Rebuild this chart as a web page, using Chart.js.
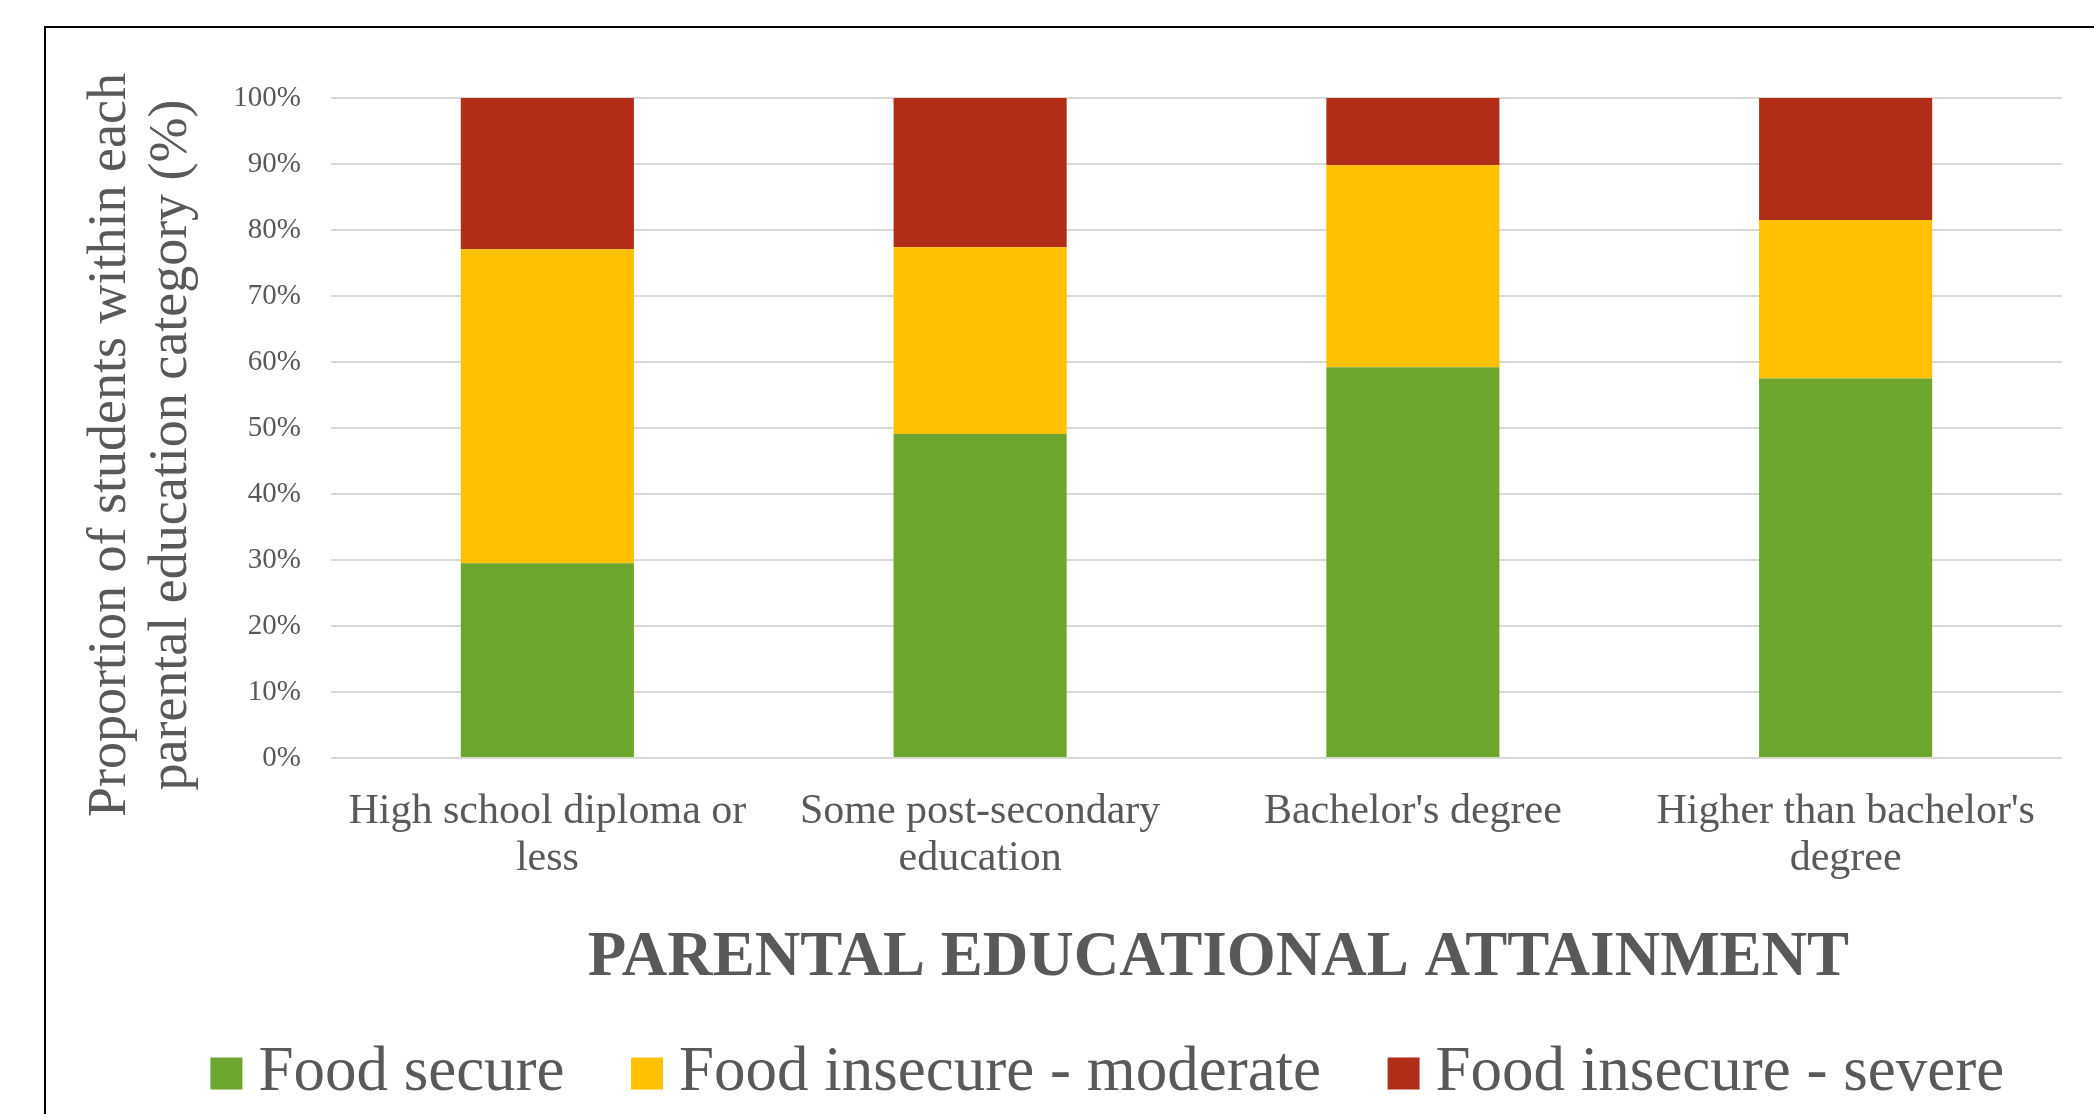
<!DOCTYPE html>
<html>
<head>
<meta charset="utf-8">
<script src="https://cdn.jsdelivr.net/npm/chart.js@4/dist/chart.umd.min.js"></script>
<style>
  html, body { margin: 0; padding: 0; background: #fff; overflow: hidden; }
  #wrap { width: 2094px; height: 1114px; overflow: hidden; position: relative; }
  #chart { position: absolute; left: 0; top: 0; }
</style>
</head>
<body>
<div id="wrap"><canvas id="chart" width="2185" height="1115"></canvas></div>
<script>
// parental education categories (multi-line labels as in the original)
const categories = [
    ['High school diploma or', 'less'],
    ['Some post-secondary', 'education'],
    ["Bachelor's degree"],
    ["Higher than bachelor's", 'degree']
];

// share of students (%) in each food security group
const foodSecure = [29.5, 49.1, 59.2, 57.5];
const insecureModerate = [47.6, 28.3, 30.6, 24.0];
const insecureSevere = [22.9, 22.6, 10.2, 18.5];

const seriesNames = ['Food secure', 'Food insecure - moderate', 'Food insecure - severe'];
const seriesColors = ['#6ca62f', '#ffc000', '#b22d18'];

const yTicks = [0, 10, 20, 30, 40, 50, 60, 70, 80, 90, 100];

const xTitle = 'PARENTAL EDUCATIONAL ATTAINMENT';
const yTitle = ['Proportion of students within each', 'parental education category (%)'];

const serif = '"Liberation Serif", "Times New Roman", serif';
const textColor = '#595959';

// white background + the outer frame (only top and left edges are visible in the crop)
const framePlugin = {
    id: 'frame',
    beforeDraw(chart) {
        const ctx = chart.ctx;
        ctx.save();
        ctx.fillStyle = '#fff';
        ctx.fillRect(0, 0, chart.width, chart.height);
        ctx.strokeStyle = '#000';
        ctx.lineWidth = 2;
        ctx.beginPath();
        ctx.moveTo(45, chart.height + 10);
        ctx.lineTo(45, 27);
        ctx.lineTo(chart.width + 10, 27);
        ctx.stroke();
        ctx.restore();
    }
};

// axis titles, placed like the Excel original (slightly off the plot centre)
const axisTitlePlugin = {
    id: 'axisTitles',
    afterDraw(chart) {
        const ctx = chart.ctx;
        const area = chart.chartArea;
        ctx.save();
        ctx.fillStyle = textColor;
        ctx.textAlign = 'center';
        ctx.textBaseline = 'alphabetic';

        ctx.font = 'bold 63px ' + serif;
        ctx.fillText(xTitle, (area.left + area.right) / 2 + 22, 975);

        ctx.font = '54px ' + serif;
        ctx.translate(124.5, (area.top + area.bottom) / 2 + 17);
        ctx.rotate(-Math.PI / 2);
        ctx.fillText(yTitle[0], 0, 0);
        ctx.fillText(yTitle[1], 0, 61.5);
        ctx.restore();
    }
};

new Chart(document.getElementById('chart'), {
    type: 'bar',
    data: {
        labels: categories,
        datasets: [
            { label: seriesNames[0], data: foodSecure, backgroundColor: seriesColors[0] },
            { label: seriesNames[1], data: insecureModerate, backgroundColor: seriesColors[1] },
            { label: seriesNames[2], data: insecureSevere, backgroundColor: seriesColors[2] }
        ]
    },
    options: {
        responsive: false,
        animation: false,
        barPercentage: 0.4,
        categoryPercentage: 1.0,
        layout: { padding: { left: 45, top: 98, right: 0, bottom: 0 } },
        plugins: {
            tooltip: { enabled: false },
            legend: {
                position: 'bottom',
                labels: {
                    // square markers drawn as point style so the text sits close to them
                    usePointStyle: true,
                    pointStyle: 'rect',
                    boxWidth: 1,
                    boxHeight: 32,
                    padding: 82,
                    color: textColor,
                    font: { family: serif, size: 63 }
                }
            }
        },
        scales: {
            x: {
                stacked: true,
                grid: { display: false },
                border: { display: false },
                ticks: {
                    color: textColor,
                    padding: 22,
                    maxRotation: 0,
                    autoSkip: false,
                    font: { family: serif, size: 42, lineHeight: 1.12 }
                },
                afterFit(scale) { scale.height = 202; }
            },
            y: {
                stacked: true,
                min: 0,
                max: 100,
                afterBuildTicks(scale) { scale.ticks = yTicks.map(v => ({ value: v })); },
                grid: { color: '#d9d9d9', lineWidth: 2, drawTicks: false },
                border: { display: false },
                ticks: {
                    color: textColor,
                    padding: 30,
                    font: { family: serif, size: 29 },
                    callback: v => v + '%'
                },
                afterFit(scale) { scale.width = 286; }
            },
            // empty axis that only reserves space on the right, so the legend stays centred on the full frame
            spacer: {
                type: 'linear',
                position: 'right',
                grid: { display: false },
                border: { display: false },
                ticks: { display: false },
                afterFit(scale) { scale.width = 123; }
            }
        }
    },
    plugins: [framePlugin, axisTitlePlugin]
});
</script>
</body>
</html>
